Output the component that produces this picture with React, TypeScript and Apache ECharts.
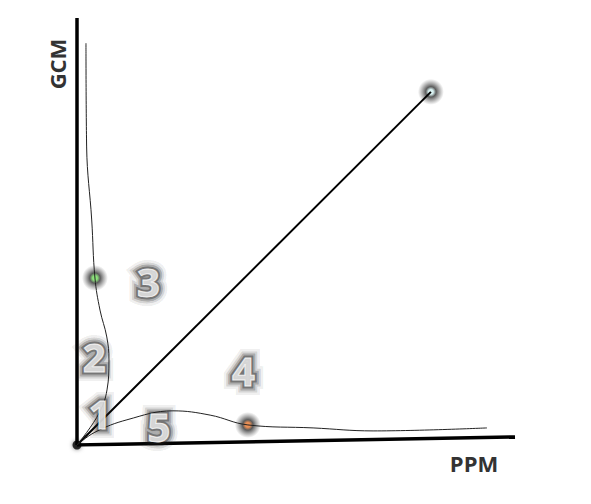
import React, { useEffect, useRef } from 'react';
import * as echarts from 'echarts';

// coordinates, in a 0..100 data space
const xAxisLine = [[0, 0], [100, 1.9]];
const yAxisLine = [[0, 0], [0, 100]];
const diagonal = [[0, 0], [80.8, 82.7]];
const leftCurve = [
  [2.05, 94.1], [2.2, 69.8], [3.36, 52.7], [4.1, 39.1], [5.25, 31.6],
  [6.8, 25.3], [7.3, 19.9], [6.85, 12.9], [4.8, 7.0], [0, 0],
];
const lowerCurve = [
  [0, 0], [4.1, 3.0], [11.4, 5.9], [21.9, 8.0], [30.4, 7.0],
  [39.0, 4.7], [53.9, 4.0], [67.6, 3.3], [93.6, 4.0],
];
const dots = [
  { value: [4.1, 39.1], color: '#6fdc5a' },
  { value: [39.0, 4.7], color: '#e8742a' },
  { value: [80.8, 82.7], color: '#cfeeee' },
];
const regionLabels = [
  { name: '1', value: [5.25, 7.3] },
  { name: '2', value: [3.9, 20.8] },
  { name: '3', value: [16.3, 38.4] },
  { name: '4', value: [38.0, 17.5] },
  { name: '5', value: [18.7, 4.4] },
];

function glow(c) {
  return {
    type: 'radial', x: 0.5, y: 0.5, r: 0.5,
    colorStops: [
      { offset: 0, color: c },
      { offset: 0.18, color: c },
      { offset: 0.4, color: 'rgba(40,40,40,0.95)' },
      { offset: 0.65, color: 'rgba(60,60,60,0.55)' },
      { offset: 1, color: 'rgba(90,90,90,0)' },
    ],
  };
}

const labelBase = {
  show: true,
  position: 'inside',
  formatter: '{b}',
  fontSize: 40,
  fontWeight: 'bold',
  fontFamily: '"Open Sans"',
};

// soft halo built from stacked translucent outlines
const haloLayers = [
  { width: 18, alpha: 0.1 },
  { width: 13, alpha: 0.18 },
  { width: 9, alpha: 0.3 },
  { width: 5, alpha: 0.5 },
];

export default function App() {
  const chartRef = useRef(null);

  useEffect(() => {
    if (!chartRef.current) return;
    const chart = echarts.init(chartRef.current, null, { renderer: 'svg' });

    const thin = { color: '#222', width: 1 };
    const options = {
      animation: false,
      backgroundColor: '#fff',
      grid: { left: 77, top: 18, width: 438, height: 427 },
      xAxis: { type: 'value', min: 0, max: 100, show: false },
      yAxis: { type: 'value', min: 0, max: 100, show: false },
      graphic: [
        {
          type: 'text', x: 57, y: 64, rotation: Math.PI / 2,
          style: {
            text: 'GCM', fill: '#333', font: 'bold 22px "Open Sans"',
            align: 'center', verticalAlign: 'middle',
          },
        },
        {
          type: 'text', x: 474, y: 463,
          style: {
            text: 'PPM', fill: '#333', font: 'bold 22px "Open Sans"',
            align: 'center', verticalAlign: 'middle',
          },
        },
      ],
      series: [
        { type: 'line', data: xAxisLine, symbol: 'none', lineStyle: { color: '#000', width: 3.5 } },
        { type: 'line', data: yAxisLine, symbol: 'none', lineStyle: { color: '#000', width: 3.5 } },
        { type: 'line', data: diagonal, symbol: 'none', lineStyle: { color: '#000', width: 2 } },
        { type: 'line', data: leftCurve, symbol: 'none', smooth: 0.4, lineStyle: thin },
        { type: 'line', data: lowerCurve, symbol: 'none', smooth: 0.4, lineStyle: thin },
        {
          type: 'scatter',
          data: [[0, 0]],
          symbolSize: 9,
          itemStyle: { color: '#000', shadowBlur: 4, shadowColor: 'rgba(0,0,0,0.6)' },
        },
        {
          type: 'scatter',
          symbolSize: 26,
          data: dots.map((d) => ({ value: d.value, itemStyle: { color: glow(d.color) } })),
        },
        ...haloLayers.map((h, i) => ({
          type: 'scatter',
          symbolSize: 0,
          silent: true,
          z: 3 + i,
          data: regionLabels,
          label: {
            ...labelBase,
            color: `rgba(30,30,30,${h.alpha})`,
            textBorderColor: `rgba(30,30,30,${h.alpha})`,
            textBorderWidth: h.width,
          },
        })),
        {
          type: 'scatter',
          symbolSize: 0,
          z: 10,
          data: regionLabels,
          label: {
            ...labelBase,
            color: '#fff',
            textBorderColor: '#fff',
            textBorderWidth: 1,
          },
        },
      ],
    };

    chart.setOption(options);
    return () => chart.dispose();
  }, []);

  return (
    <div
      ref={chartRef}
      style={{ position: 'absolute', left: 0, top: 0, width: '591px', height: '504px' }}
    />
  );
}
